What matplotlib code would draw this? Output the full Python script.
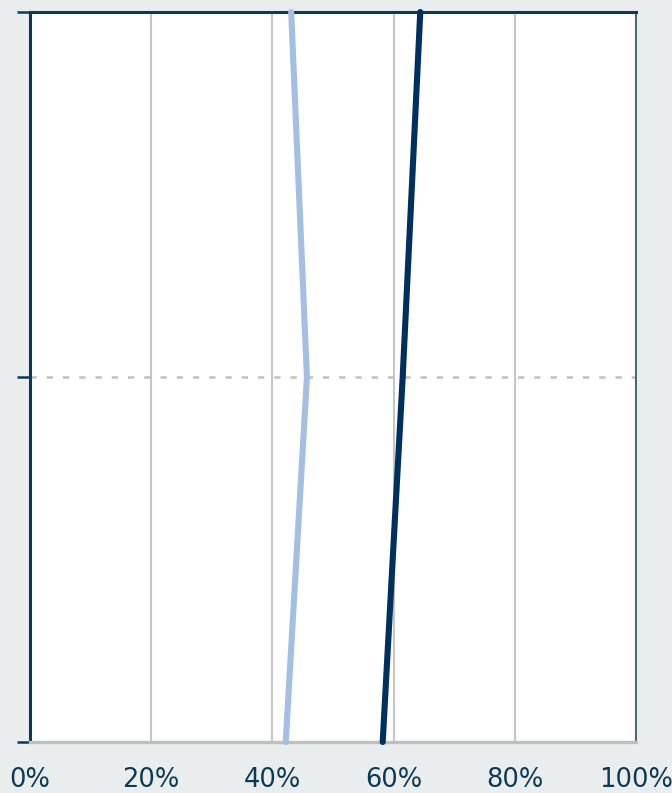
import matplotlib
matplotlib.use("Agg")
import matplotlib.pyplot as plt
from matplotlib.ticker import PercentFormatter

# Three rows, bottom to top; the reference shows no row labels.
rows = ["", "", ""]
series_light = [42.2, 45.7, 43.1]
series_dark = [58.2, 61.5, 64.4]
x_ticks = [0, 20, 40, 60, 80, 100]

BG = "#e9edee"
NAVY = "#0d3a52"
GRID = "#c6c6c6"

fig = plt.figure(figsize=(6.72, 7.93), dpi=100, facecolor=BG)
ax = fig.add_axes([30 / 672, 1 - 742 / 793, 606 / 672, 730 / 793])
ax.set_facecolor("white")

ypos = list(range(len(rows)))
ax.plot(series_light, ypos, color="#a5bfe3", lw=4.4, solid_capstyle="round",
        solid_joinstyle="miter", clip_on=False, zorder=5)
ax.plot(series_dark, ypos, color="#00305e", lw=4.4, solid_capstyle="round",
        solid_joinstyle="miter", clip_on=False, zorder=5)

ax.set_xlim(0, 100)
ax.set_ylim(0, len(rows) - 1)
ax.set_xticks(x_ticks)
ax.xaxis.set_major_formatter(PercentFormatter(decimals=0))
ax.set_yticks(ypos)
ax.set_yticklabels(rows)

ax.grid(axis="x", color=GRID, lw=1.5, zorder=1)
ax.grid(axis="y", color="#c0c0c0", lw=1.8, ls=(0, (2.5, 4)), zorder=1)
ax.set_axisbelow(True)

ax.tick_params(axis="x", length=0, pad=18, labelsize=18.5, labelcolor=NAVY)
ax.tick_params(axis="y", length=9.5, width=1.8, color=NAVY, direction="out")
for lab in ax.get_xticklabels():
    lab.set_fontfamily("DejaVu Sans")

ax.spines["left"].set_color(NAVY)
ax.spines["left"].set_linewidth(2.2)
ax.spines["top"].set_color(NAVY)
ax.spines["top"].set_linewidth(2.2)
ax.spines["right"].set_color("#2f4f5f")
ax.spines["right"].set_linewidth(1.2)
ax.spines["bottom"].set_color("#bfbfbf")
ax.spines["bottom"].set_linewidth(2.4)

fig.savefig("out.png", dpi=100, facecolor=BG)
